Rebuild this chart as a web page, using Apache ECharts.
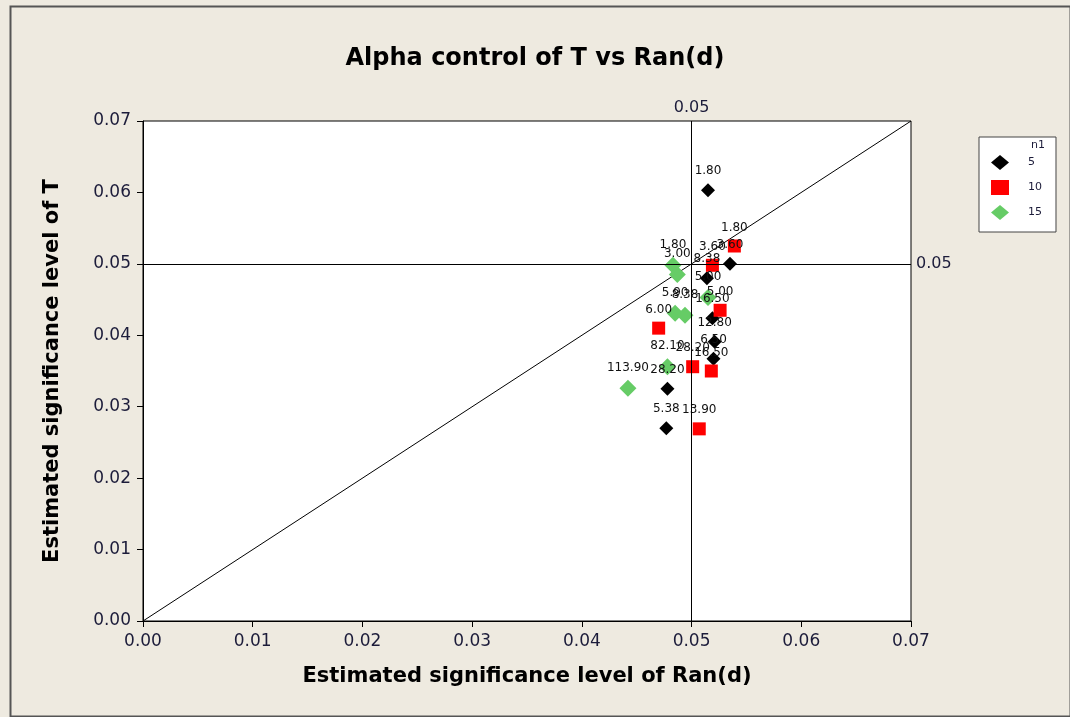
<!DOCTYPE html>
<html>
<head>
<meta charset="utf-8">
<script src="https://cdn.jsdelivr.net/npm/echarts@6/dist/echarts.min.js"></script>
<style>
html,body{margin:0;padding:0;background:#EEEAE0;}
#c{width:1070px;height:717px;}
</style>
</head>
<body>
<div id="c"></div>
<script>
// Data
const tickValues = [0, 0.01, 0.02, 0.03, 0.04, 0.05, 0.06, 0.07];
const seriesNames = ['5', '10', '15'];
const blackX = [0.0515, 0.0535, 0.0514, 0.0519, 0.0521, 0.0520, 0.0478, 0.0477];
const blackY = [0.0603, 0.0500, 0.0480, 0.0424, 0.0391, 0.0367, 0.0325, 0.0270];
const blackLabels = ['1.80', '3.60', '8.38', '16.50', '12.80', '6.50', '28.20', '5.38'];
const redX = [0.0539, 0.0519, 0.0526, 0.0470, 0.0501, 0.0518, 0.0507];
const redY = [0.0525, 0.0498, 0.0435, 0.0410, 0.0356, 0.0350, 0.0269];
const redLabels = ['1.80', '3.60', '5.00', '6.00', '28.20', '16.50', '13.90'];
const greenX = [0.0483, 0.0487, 0.0515, 0.0485, 0.0494, 0.0478, 0.0442];
const greenY = [0.0498, 0.0485, 0.0453, 0.0431, 0.0428, 0.0356, 0.0326];
const greenLabels = ['1.80', '3.00', '5.00', '5.90', '8.38', '82.10', '113.90'];
const diagX = [0, 0.07];
const diagY = [0, 0.07];
const refX = 0.05;
const refY = 0.05;

const toPts = (xs, ys, labs) => xs.map((x, i) => ({value: [x, ys[i]], name: labs[i]}));

const labelCfg = {
  show: true, position: 'top', distance: 6, opacity: 1,
  formatter: p => p.name,
  fontFamily: 'DejaVu Sans', fontSize: 12, color: '#111'
};

const chart = echarts.init(document.getElementById('c'), null, {renderer: 'canvas'});
const axisCommon = {
  type: 'value', min: 0, max: 0.07, interval: 0.01,
  axisLine: {show: true, onZero: false, lineStyle: {color: '#000', width: 1}},
  axisTick: {show: true, inside: false, length: 6, lineStyle: {color: '#000'}},
  axisLabel: {formatter: v => v.toFixed(2), fontFamily: 'DejaVu Sans', fontSize: 17, color: '#1c1c3a', margin: 12},
  splitLine: {show: false},
  nameLocation: 'middle',
  nameTextStyle: {fontFamily: 'DejaVu Sans', fontWeight: 'bold', fontSize: 21, color: '#000'}
};
chart.setOption({
  backgroundColor: '#EEEAE0',
  animation: false,
  title: {
    text: 'Alpha control of T vs Ran(d)', left: 'center', top: 42,
    textStyle: {fontFamily: 'DejaVu Sans', fontWeight: 'bold', fontSize: 24, color: '#000'}
  },
  graphic: [
    {type: 'rect', left: 8, top: 4, shape: {width: 1060, height: 710}, style: {fill: 'none', stroke: '#555', lineWidth: 2}, z: -1},
    {type: 'text', left: 1031, top: 140, style: {text: 'n1', fontFamily: 'DejaVu Sans', fontSize: 11, fill: '#1c1c3a'}, z: 100}
  ],
  legend: {
    orient: 'vertical', left: 979, top: 137,
    padding: [18, 14, 12, 12],
    backgroundColor: '#fff', borderColor: '#444', borderWidth: 1,
    itemGap: 10, itemWidth: 18, itemHeight: 15,
    data: seriesNames,
    textStyle: {fontFamily: 'DejaVu Sans', fontSize: 11, color: '#1c1c3a', padding: [0, 0, 0, 14]}
  },
  grid: {left: 143, right: 159, top: 121, bottom: 96, show: true, borderColor: '#000', borderWidth: 1, backgroundColor: '#fff'},
  xAxis: Object.assign({}, axisCommon, {name: 'Estimated significance level of Ran(d)', nameGap: 45}),
  yAxis: Object.assign({}, axisCommon, {name: 'Estimated significance level of T', nameGap: 80}),
  series: [
    {
      name: 'ref', type: 'line', data: diagX.map((x, i) => [x, diagY[i]]),
      symbol: 'none', lineStyle: {color: '#000', width: 1}, silent: true, z: 1,
      markLine: {
        symbol: 'none', silent: true,
        lineStyle: {color: '#000', width: 1, type: 'solid'},
        label: {show: true, position: 'end', formatter: p => p.value.toFixed(2), fontFamily: 'DejaVu Sans', fontSize: 16, color: '#1c1c3a'},
        data: [{xAxis: refX}, {yAxis: refY}]
      }
    },
    {name: '5', type: 'scatter', data: toPts(blackX, blackY, blackLabels), symbol: 'diamond', symbolSize: 14,
      itemStyle: {color: '#000', opacity: 1}, label: labelCfg, z: 3},
    {name: '10', type: 'scatter', data: toPts(redX, redY, redLabels), symbol: 'rect', symbolSize: 13,
      itemStyle: {color: '#ff0000', opacity: 1}, label: labelCfg, z: 3},
    {name: '15', type: 'scatter', data: toPts(greenX, greenY, greenLabels), symbol: 'diamond', symbolSize: 17,
      itemStyle: {color: '#66cc66', opacity: 1}, label: labelCfg, z: 3}
  ]
});
</script>
</body>
</html>
